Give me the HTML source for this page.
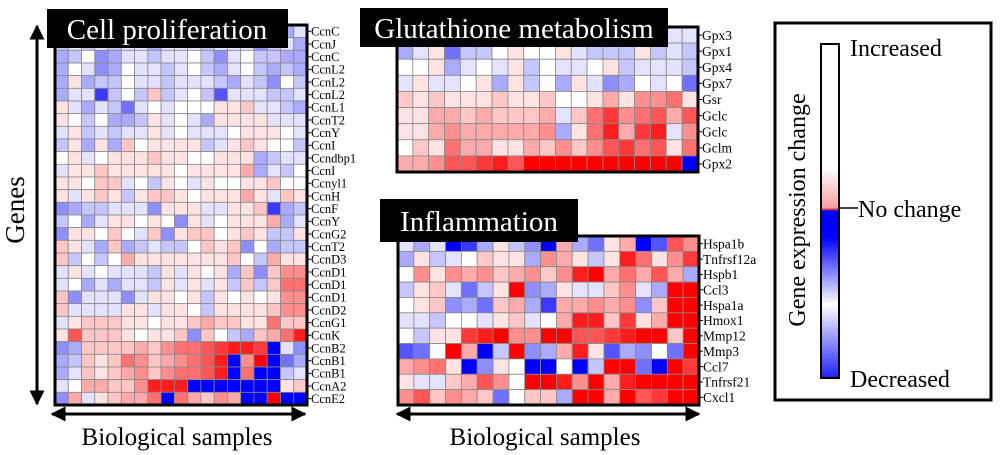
<!DOCTYPE html>
<html><head><meta charset="utf-8">
<style>
html,body{margin:0;padding:0;background:#fff;}
svg{display:block;}
svg text{font-family:"Liberation Serif","Times New Roman",serif;}
</style></head>
<body>
<svg id="fig" width="1000" height="455" viewBox="0 0 1000 455" xmlns="http://www.w3.org/2000/svg" font-family="Liberation Serif, serif">
<defs>
<marker id="ah" viewBox="0 0 10 10" refX="9" refY="5" markerWidth="5" markerHeight="5" orient="auto-start-reverse"><path d="M0,0 L10,5 L0,10 z" fill="#000"/></marker>
<linearGradient id="cb" x1="0" y1="0" x2="0" y2="1">
<stop offset="0" stop-color="#fff"/><stop offset="0.37" stop-color="#fff"/>
<stop offset="0.49" stop-color="#f7a0a0"/><stop offset="0.495" stop-color="#e04040"/>
<stop offset="0.5" stop-color="#0000ff"/><stop offset="0.58" stop-color="#0000ff"/>
<stop offset="0.78" stop-color="#ffffff"/><stop offset="1" stop-color="#2020ff"/>
</linearGradient>
</defs>
<g id="g-left"></g>
<g id="g-glu"></g>
<g id="g-inf"></g>

<g>
<rect x="47" y="9" width="241" height="39" fill="#000"/>
<text x="167" y="39" font-family="Liberation Serif, serif" font-size="29" fill="#fff" text-anchor="middle">Cell proliferation</text></g>
<g>
<rect x="360" y="8" width="308" height="39" fill="#000"/>
<text x="514" y="38" font-family="Liberation Serif, serif" font-size="29" fill="#fff" text-anchor="middle">Glutathione metabolism</text></g>
<g>
<rect x="380" y="199" width="198" height="43" fill="#000"/>
<text x="479" y="231" font-family="Liberation Serif, serif" font-size="29" fill="#fff" text-anchor="middle">Inflammation</text></g>

<line x1="37" y1="404" x2="37" y2="26" stroke="#000" stroke-width="3" marker-start="url(#ah)" marker-end="url(#ah)"/>
<text transform="translate(24,210) rotate(-90)" font-family="Liberation Serif, serif" font-size="27" text-anchor="middle">Genes</text>
<line x1="52" y1="414" x2="305" y2="414" stroke="#000" stroke-width="3" marker-start="url(#ah)" marker-end="url(#ah)"/>
<text x="177" y="445" font-family="Liberation Serif, serif" font-size="25" text-anchor="middle">Biological samples</text>
<line x1="397" y1="414" x2="699" y2="414" stroke="#000" stroke-width="3" marker-start="url(#ah)" marker-end="url(#ah)"/>
<text x="545" y="445" font-family="Liberation Serif, serif" font-size="25" text-anchor="middle">Biological samples</text>

<g>
<rect x="775" y="23" width="216" height="377" fill="#fff" stroke="#000" stroke-width="3"/>
<rect x="821" y="44" width="18" height="334" fill="url(#cb)" stroke="#000" stroke-width="2"/>
<text transform="translate(805,210) rotate(-90)" font-family="Liberation Serif, serif" font-size="24" text-anchor="middle">Gene expression change</text>
<text x="850" y="56" font-family="Liberation Serif, serif" font-size="24">Increased</text>
<line x1="839" y1="208" x2="858" y2="208" stroke="#000" stroke-width="1.5"/>
<text x="858" y="217" font-family="Liberation Serif, serif" font-size="24">No change</text>
<text x="850" y="387" font-family="Liberation Serif, serif" font-size="24">Decreased</text>
</g>
</svg>
<script>
const leftGenes=["CcnC","CcnJ","CcnC","CcnL2","CcnL2","CcnL2","CcnL1","CcnT2","CcnY","CcnI","Ccndbp1","CcnI","Ccnyl1","CcnH","CcnF","CcnY","CcnG2","CcnT2","CcnD3","CcnD1","CcnD1","CcnD1","CcnD2","CcnG1","CcnK","CcnB2","CcnB1","CcnB1","CcnA2","CcnE2"];
const leftValues=[
[-2,-2,-2,-1,-2,-1,-1,-2,-1,-1,-1,-2,-1,-1,-1,-2,-2,-3,-1],
[-2,-1,-2,-1,-2,-1,-1,-3,-1,-1,-1,-2,-1,-1,-1,-4,-2,-1,-3],
[-3,-2,0,-4,-3,-1,-1,-2,-1,-1,0,-2,-4,-1,0,-2,-2,-3,-3],
[-3,0,-1,-4,-3,0,-1,-1,-2,-1,0,-2,-3,-1,0,-2,-3,-2,-3],
[-3,1,-3,-2,-2,0,-1,-1,-2,-1,-1,-1,-2,-3,-1,-2,-4,0,-2],
[-3,-1,-1,-7,-2,0,-2,2,-2,-1,0,-2,-6,-1,-1,-1,-2,-2,-1],
[1,-1,-3,-1,-2,-5,-1,0,-1,0,0,0,1,1,2,-1,-1,-2,-3],
[1,0,-2,0,-3,-3,-2,1,-1,0,-1,-3,1,1,1,1,-1,-1,-1],
[-1,1,-2,-1,-2,-1,-1,1,-1,0,-1,-1,-1,0,1,1,1,0,-1],
[-2,1,-3,1,-3,2,0,1,1,1,1,-2,-1,1,2,1,0,0,-2],
[0,1,-1,0,1,1,1,2,1,1,0,0,1,1,1,-3,-2,-1,-1],
[-1,1,1,2,1,1,1,1,1,0,1,1,1,1,3,-3,-1,-2,0],
[1,1,0,2,2,-1,0,-2,1,0,-1,1,0,0,1,1,2,0,0],
[1,-1,1,2,1,-2,1,2,2,1,0,1,1,1,3,1,-1,2,1],
[-4,-3,-2,-2,-1,-1,-1,-4,1,1,1,-1,-1,1,1,2,-7,-3,-2],
[-2,0,-3,-1,1,1,0,1,0,-4,1,-1,0,1,1,1,3,-3,-1],
[-4,1,1,0,2,0,-1,2,-4,1,2,2,0,1,2,1,-2,-2,1],
[2,1,-1,-3,2,-3,-2,-1,-2,-2,0,2,1,2,-4,0,-3,-2,-2],
[2,-2,0,-2,0,3,1,1,1,1,1,1,1,2,0,-2,3,1,1],
[-1,1,-1,0,-1,-1,-1,-2,1,-1,1,0,1,-3,2,-4,2,4,4],
[-1,0,-3,-1,-3,-1,-1,-2,1,-1,1,-1,1,-2,2,-2,2,5,5],
[2,-4,-1,-1,-1,-4,-1,1,1,0,1,-2,1,0,1,0,1,4,4],
[2,-1,-1,-1,-1,1,1,-1,1,1,0,-2,1,1,1,1,2,4,4],
[-1,1,2,2,2,1,1,0,1,1,2,3,2,2,1,1,5,2,2],
[1,6,2,2,2,1,0,1,1,2,-4,2,0,-2,-3,2,3,5,8],
[-4,-3,2,2,2,2,3,2,4,5,5,6,7,8,8,7,-9,-1,-4],
[-3,-2,2,1,2,5,4,2,3,4,5,6,8,-9,4,9,-9,-5,-3],
[-3,-1,2,1,2,3,4,2,4,5,5,6,8,-9,5,-9,-9,-2,-1],
[-1,0,3,3,2,2,4,8,8,8,-9,-9,-9,-9,-9,-9,-9,1,2],
[-4,3,-1,1,2,3,3,5,-9,5,3,2,4,3,-9,-9,9,-9,-9]];
const gluGenes=["Gpx3","Gpx1","Gpx4","Gpx7","Gsr","Gclc","Gclc","Gclm","Gpx2"];
const gluValues=[
[-1,-1,0,-1,-1,-1,0,0,0,0,0,-1,-1,-1,-1,-1,-2,-1,-1],
[-3,-1,1,-5,-2,-2,0,1,0,0,1,-1,-2,-2,-2,1,-2,-1,-2],
[0,0,1,-3,-1,0,-1,1,-2,0,-1,-1,0,1,-2,-1,-1,-1,-2],
[-1,1,-1,-1,0,1,-3,1,-2,0,-3,1,-1,-4,-3,0,-1,0,-5],
[2,1,2,1,1,1,2,1,1,2,0,0,1,3,1,4,4,5,1],
[1,1,3,3,2,3,2,2,2,3,-1,2,5,7,4,5,6,3,6],
[1,1,3,4,3,3,3,3,3,4,-3,1,5,8,3,7,8,-1,4],
[0,2,1,5,3,3,1,1,3,2,4,2,4,6,7,5,6,1,5],
[3,3,4,6,6,7,8,6,9,9,9,9,9,9,9,9,9,9,-9]];
const infGenes=["Hspa1b","Tnfrsf12a","Hspb1","Ccl3","Hspa1a","Hmox1","Mmp12","Mmp3","Ccl7","Tnfrsf21","Cxcl1"];
const infValues=[
[-1,-3,-1,-9,-7,-3,1,-2,-4,-9,3,-3,-5,1,3,-9,-6,6,4],
[-3,1,-2,-1,0,2,1,1,-3,4,3,1,-2,1,8,5,1,4,7],
[0,4,1,4,3,4,2,3,4,2,4,8,9,3,5,3,6,3,-3],
[-2,1,2,-1,-5,-2,1,9,-4,-3,1,-1,-1,2,4,-1,-3,9,9],
[0,1,2,-4,-3,-5,2,3,-3,-7,3,3,4,3,4,-4,2,9,9],
[-1,-1,-2,0,0,-1,1,2,-1,0,3,8,8,2,7,1,3,9,9],
[0,-2,1,1,7,8,9,4,4,9,9,6,6,7,8,9,9,2,9],
[-6,-5,0,9,3,-9,-2,9,-4,-3,3,8,1,-6,-3,-4,0,-5,9],
[3,4,5,1,-9,-4,1,0,-9,-9,0,-9,-2,9,9,-5,-9,9,7],
[1,-1,-1,2,3,6,4,0,9,9,8,4,9,3,8,9,9,9,9],
[4,6,2,4,3,2,-5,0,2,2,-3,9,9,3,9,6,7,9,9]];
const NS="http://www.w3.org/2000/svg";
function color(v){const t=Math.min(1,Math.abs(v)/9);const c=Math.round(255*(1-t));
 return v>=0?`rgb(255,${c},${c})`:`rgb(${c},${c},255)`;}
function heat(gid,genes,vals,x0,y0,x1,y1,fs){
 const g=document.getElementById(gid);
 const nr=vals.length,nc=vals[0].length;
 const cw=(x1-x0)/nc,ch=(y1-y0)/nr;
 const xs=c=>x0+c*cw, ys=r=>y0+r*ch;
 vals.forEach((row,r)=>row.forEach((v,c)=>{
  const el=document.createElementNS(NS,'rect');
  
  
  el.setAttribute('x',xs(c));el.setAttribute('y',ys(r));
  el.setAttribute('width',cw);el.setAttribute('height',ch);
  el.setAttribute('fill',color(v));el.setAttribute('stroke','#888');el.setAttribute('stroke-width','0.8');
  g.appendChild(el);}));
 const b=document.createElementNS(NS,'rect');
 
 
 b.setAttribute('x',x0);b.setAttribute('y',y0);b.setAttribute('width',x1-x0);b.setAttribute('height',y1-y0);
 b.setAttribute('fill','none');b.setAttribute('stroke','#000');b.setAttribute('stroke-width','3');
 g.appendChild(b);
 genes.forEach((n,r)=>{
  const yc=ys(r)+ch/2;
  const tk=document.createElementNS(NS,'line');
  
  
  tk.setAttribute('x1',x1+1);tk.setAttribute('x2',x1+4);tk.setAttribute('y1',yc);tk.setAttribute('y2',yc);tk.setAttribute('stroke','#000');
  g.appendChild(tk);
  const t=document.createElementNS(NS,'text');
  
  
  t.setAttribute('font-family','Liberation Serif, serif');
  t.setAttribute('x',x1+4);t.setAttribute('y',yc+fs*0.35);t.setAttribute('font-size',fs);
  t.textContent=n;g.appendChild(t);});
}
heat('g-left',leftGenes,leftValues,55,25,307,405,12.5);
heat('g-glu',gluGenes,gluValues,397,27,698,172,13.5);
heat('g-inf',infGenes,infValues,398,236,699,405,13.5);
</script>
</body></html>
